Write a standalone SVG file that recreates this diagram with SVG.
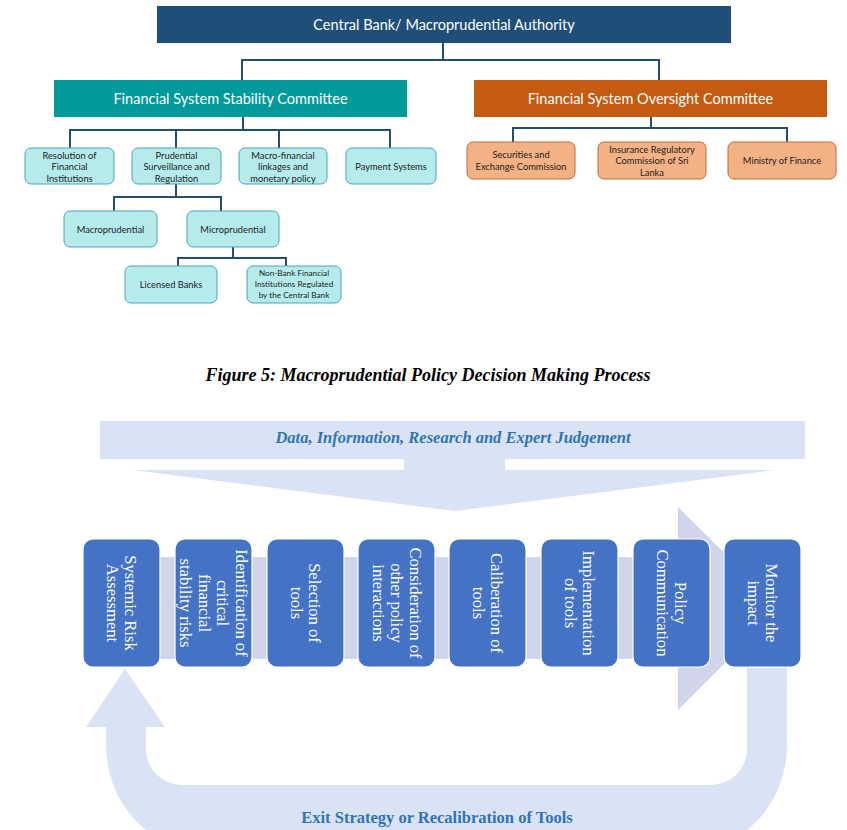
<svg xmlns="http://www.w3.org/2000/svg" width="847" height="830" viewBox="0 0 847 830">
<style>
.org{font-family:Lato,"Liberation Sans",sans-serif;text-anchor:middle}
.big{font-size:14.5px;fill:#ffffff}
.sm{font-size:9.3px;fill:#222222}
.xs{font-size:8.2px;fill:#222222}
.teal{fill:#b6ebeb;stroke:#4aa6b8;stroke-width:1}
.org-o{fill:#f4b183;stroke:#c0693a;stroke-width:1}
.conn{fill:none;stroke:#264e70;stroke-width:2}
.step{fill:#4472c4;stroke:#ffffff;stroke-width:1.2}
.stxt{font-family:"Liberation Serif",serif;font-size:16.6px;fill:#ffffff;text-anchor:middle}
.band{fill:#dae3f3}
.chev{fill:#cfd5ea}
.blue{font-family:"Liberation Serif",serif;font-weight:bold;font-size:16.5px;fill:#2f74b5;text-anchor:middle}
</style>
<rect width="847" height="830" fill="#ffffff"/>

<g id="connectors">
<polyline class="conn" points="443,43 443,60"/>
<polyline class="conn" points="242,80 242,60 659,60 659,80"/>
<polyline class="conn" points="243,117 243,130"/>
<polyline class="conn" points="70,148 70,130 390,130 390,148"/>
<polyline class="conn" points="176,130 176,148"/>
<polyline class="conn" points="279,130 279,148"/>
<polyline class="conn" points="651,117 651,128"/>
<polyline class="conn" points="513,142 513,128 787,128 787,142"/>
<polyline class="conn" points="176,184 176,197"/>
<polyline class="conn" points="114,211 114,197 221,197 221,211"/>
<polyline class="conn" points="233,247 233,258"/>
<polyline class="conn" points="178,266 178,258 286,258 286,266"/>
</g>

<g id="n-central">
<rect x="157" y="6" width="574" height="37" fill="#1f4e79"/>
<text class="org big" x="444" y="29.5">Central Bank/ Macroprudential Authority</text>
</g>
<g id="n-fssc">
<rect x="54" y="80" width="353" height="37" fill="#009a9a"/>
<text class="org big" x="230.5" y="103.5">Financial System Stability Committee</text>
</g>
<g id="n-fsoc">
<rect x="474" y="80" width="353" height="37" fill="#c55a11"/>
<text class="org big" x="650.5" y="103.5">Financial System Oversight Committee</text>
</g>

<g id="n-resolution">
<rect class="teal" x="25" y="148" width="89" height="36" rx="6"/>
<text class="org sm" x="69.5" y="158.5">Resolution of<tspan x="69.5" dy="11.5">Financial</tspan><tspan x="69.5" dy="11.5">Institutions</tspan></text>
</g>
<g id="n-prudential">
<rect class="teal" x="132" y="148" width="89" height="36" rx="6"/>
<text class="org sm" x="176.5" y="158.5">Prudential<tspan x="176.5" dy="11.5">Surveillance and</tspan><tspan x="176.5" dy="11.5">Regulation</tspan></text>
</g>
<g id="n-macrofin">
<rect class="teal" x="239" y="148" width="88" height="36" rx="6"/>
<text class="org sm" x="283" y="158.5">Macro-financial<tspan x="283" dy="11.5">linkages and</tspan><tspan x="283" dy="11.5">monetary policy</tspan></text>
</g>
<g id="n-payment">
<rect class="teal" x="346" y="148" width="90" height="36" rx="6"/>
<text class="org sm" x="391" y="169.5">Payment Systems</text>
</g>

<g id="n-sec">
<rect class="org-o" x="467" y="142" width="108" height="37" rx="6"/>
<text class="org sm" x="521" y="158">Securities and<tspan x="521" dy="11.5">Exchange Commission</tspan></text>
</g>
<g id="n-ins">
<rect class="org-o" x="598" y="142" width="108" height="37" rx="6"/>
<text class="org sm" x="652" y="152.5">Insurance Regulatory<tspan x="652" dy="11.5">Commission of Sri</tspan><tspan x="652" dy="11.5">Lanka</tspan></text>
</g>
<g id="n-mof">
<rect class="org-o" x="728" y="142" width="108" height="37" rx="6"/>
<text class="org sm" x="782" y="164">Ministry of Finance</text>
</g>

<g id="n-macro">
<rect class="teal" x="64" y="211" width="93" height="36" rx="6"/>
<text class="org sm" x="110.5" y="232.5">Macroprudential</text>
</g>
<g id="n-micro">
<rect class="teal" x="187" y="211" width="92" height="36" rx="6"/>
<text class="org sm" x="233" y="232.5">Microprudential</text>
</g>
<g id="n-banks">
<rect class="teal" x="125" y="266" width="92" height="37" rx="6"/>
<text class="org sm" x="171" y="287.5">Licensed Banks</text>
</g>
<g id="n-nbfi">
<rect class="teal" x="247" y="266" width="94" height="37" rx="6"/>
<text class="org xs" x="294" y="276">Non-Bank Financial<tspan x="294" dy="11">Institutions Regulated</tspan><tspan x="294" dy="11">by the Central Bank</tspan></text>
</g>

<text x="428" y="381" font-family="'Liberation Serif',serif" font-weight="bold" font-style="italic" font-size="18" text-anchor="middle" fill="#000000">Figure 5: Macroprudential Policy Decision Making Process</text>

<g id="input-arrow">
<rect class="band" x="100" y="421" width="705" height="38"/>
<rect class="band" x="404" y="458" width="101" height="13"/>
<polygon class="band" points="133,470 775,470 455,511"/>
<text class="blue" x="453" y="442.5" font-style="italic">Data, Information, Research and Expert Judgement</text>
</g>

<g id="process-arrow">
<rect class="chev" x="100" y="557" width="579" height="102"/>
<polygon class="chev" points="678,507 780,608 678,710"/>
</g>

<g id="return-arrow">
<path class="band" d="M125,669 L165,727 L146,727 L146,749 A36,36 0 0 0 182,785 L711,785 A36,36 0 0 0 747,749 L747,668 L787,668 L787,745 A97,105 0 0 1 690,850 L203,850 A97,105 0 0 1 106,745 L106,727 L86,727 Z"/>
<text class="blue" x="437" y="823">Exit Strategy or Recalibration of Tools</text>
</g>

<g id="s1">
<rect class="step" x="83" y="539" width="77" height="128" rx="10"/>
<text class="stxt" transform="translate(121.5,603) rotate(90)"><tspan x="0" y="-3.75">Systemic Risk</tspan><tspan x="0" y="14.75">Assessment</tspan></text>
</g>
<g id="s2">
<rect class="step" x="175" y="539" width="77" height="128" rx="10"/>
<text class="stxt" transform="translate(213.5,603) rotate(90)"><tspan x="0" y="-22.25">Identification of</tspan><tspan x="0" y="-3.75">critical</tspan><tspan x="0" y="14.75">financial</tspan><tspan x="0" y="33.25">stability risks</tspan></text>
</g>
<g id="s3">
<rect class="step" x="267" y="539" width="77" height="128" rx="10"/>
<text class="stxt" transform="translate(305.5,603) rotate(90)"><tspan x="0" y="-3.75">Selection of</tspan><tspan x="0" y="14.75">tools</tspan></text>
</g>
<g id="s4">
<rect class="step" x="358" y="539" width="77" height="128" rx="10"/>
<text class="stxt" transform="translate(396.5,603) rotate(90)"><tspan x="0" y="-13">Consideration of</tspan><tspan x="0" y="5.5">other policy</tspan><tspan x="0" y="24">interactions</tspan></text>
</g>
<g id="s5">
<rect class="step" x="449" y="539" width="77" height="128" rx="10"/>
<text class="stxt" transform="translate(487.5,603) rotate(90)"><tspan x="0" y="-3.75">Caliberation of</tspan><tspan x="0" y="14.75">tools</tspan></text>
</g>
<g id="s6">
<rect class="step" x="541" y="539" width="77" height="128" rx="10"/>
<text class="stxt" transform="translate(579.5,603) rotate(90)"><tspan x="0" y="-3.75">Implementation</tspan><tspan x="0" y="14.75">of tools</tspan></text>
</g>
<g id="s7">
<rect class="step" x="633" y="539" width="77" height="128" rx="10"/>
<text class="stxt" transform="translate(671.5,603) rotate(90)"><tspan x="0" y="-3.75">Policy</tspan><tspan x="0" y="14.75">Communication</tspan></text>
</g>
<g id="s8">
<rect class="step" x="724" y="539" width="77" height="128" rx="10"/>
<text class="stxt" transform="translate(762.5,603) rotate(90)"><tspan x="0" y="-3.75">Monitor the</tspan><tspan x="0" y="14.75">impact</tspan></text>
</g>
</svg>
